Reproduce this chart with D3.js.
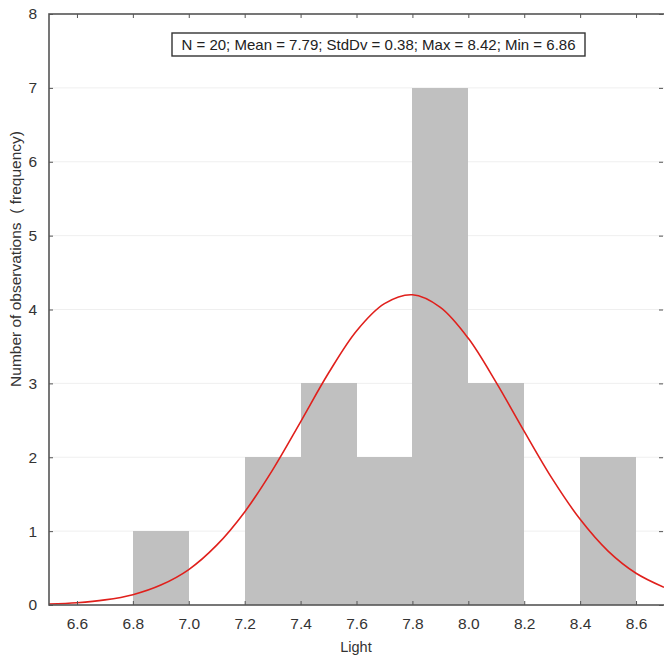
<!DOCTYPE html>
<html>
<head>
<meta charset="utf-8">
<script src="https://cdn.jsdelivr.net/npm/d3@7"></script>
<style>
  body { margin: 0; background: #fff; }
  text { font-family: "Liberation Sans", Arial, sans-serif; }
</style>
</head>
<body>
<div class="graph"></div>
<script>
// histogram bins (lower edge, upper edge, count)
var binStart = [6.6, 6.8, 7.0, 7.2, 7.4, 7.6, 7.8, 8.0, 8.2, 8.4];
var binEnd   = [6.8, 7.0, 7.2, 7.4, 7.6, 7.8, 8.0, 8.2, 8.4, 8.6];
var counts   = [0, 1, 0, 2, 3, 2, 7, 3, 0, 2];

// fitted normal curve, every 0.1
var curveX = [6.5, 6.6, 6.7, 6.8, 6.9, 7.0, 7.1, 7.2, 7.3, 7.4, 7.5, 7.6,
              7.7, 7.8, 7.9, 8.0, 8.1, 8.2, 8.3, 8.4, 8.5, 8.6, 8.7];
var curveY = [0.013, 0.031, 0.069, 0.14, 0.27, 0.48, 0.81, 1.26, 1.83, 2.48, 3.14, 3.71,
              4.08, 4.2, 4.03, 3.61, 3.01, 2.35, 1.71, 1.16, 0.73, 0.43, 0.24];

var xTicks = [6.6, 6.8, 7.0, 7.2, 7.4, 7.6, 7.8, 8.0, 8.2, 8.4, 8.6];
var yTicks = [0, 1, 2, 3, 4, 5, 6, 7, 8];
var statsLabel = "N = 20; Mean = 7.79; StdDv = 0.38; Max = 8.42; Min = 6.86";

var width = 664, height = 659;
// plot area edges (window.top is reserved, so use pl/pr/pt/pb)
var pl = 49, pr = 664, pt = 14, pb = 605;
var fontSize = "15.5px";

var svg = d3.select(".graph").append("svg")
  .attr("width", width)
  .attr("height", height);

var x = d3.scaleLinear().domain([6.5, 8.7]).range([pl, pr]);
var y = d3.scaleLinear().domain([0, 8]).range([pb, pt]);

// faint grid
svg.append("g")
  .selectAll("line")
  .data(yTicks.slice(1, -1))
  .enter().append("line")
  .attr("x1", pl).attr("x2", pr)
  .attr("y1", function (d) { return y(d); })
  .attr("y2", function (d) { return y(d); })
  .attr("stroke", "#efefef")
  .attr("stroke-width", 1);

// bars
var bins = binStart.map(function (s, i) { return { x0: s, x1: binEnd[i], n: counts[i] }; });
svg.append("g")
  .attr("shape-rendering", "crispEdges")
  .selectAll("rect")
  .data(bins.filter(function (d) { return d.n > 0; }))
  .enter().append("rect")
  .attr("x", function (d) { return Math.round(x(d.x0)); })
  .attr("width", function (d) { return Math.round(x(d.x1)) - Math.round(x(d.x0)); })
  .attr("y", function (d) { return Math.round(y(d.n)); })
  .attr("height", function (d) { return Math.round(y(0)) - Math.round(y(d.n)); })
  .attr("fill", "#c0c0c0");

// normal curve
var line = d3.line()
  .x(function (d, i) { return x(curveX[i]); })
  .y(function (d) { return y(d); })
  .curve(d3.curveCatmullRom);

svg.append("path")
  .datum(curveY)
  .attr("d", line)
  .attr("fill", "none")
  .attr("stroke", "#e0201c")
  .attr("stroke-width", 1.6);

// axes, ticks pointing inward
var axisColor = "#555";
function styleAxis(g, showLabels) {
  g.select(".domain").remove();
  g.selectAll(".tick line").attr("stroke", axisColor).attr("stroke-width", 1);
  g.selectAll(".tick text")
    .attr("fill", "#333")
    .style("font-size", fontSize)
    .style("display", showLabels ? null : "none");
}

svg.append("g")
  .attr("transform", "translate(0," + pb + ")")
  .call(d3.axisBottom(x).tickValues(xTicks).tickFormat(d3.format(".1f")).tickSizeInner(-4).tickPadding(13))
  .call(function (g) { styleAxis(g, true); });

svg.append("g")
  .attr("transform", "translate(0," + pt + ")")
  .call(d3.axisTop(x).tickValues(xTicks).tickSizeInner(-4))
  .call(function (g) { styleAxis(g, false); });

svg.append("g")
  .attr("transform", "translate(" + pl + ",0)")
  .call(d3.axisLeft(y).tickValues(yTicks).tickSizeInner(-4).tickPadding(12))
  .call(function (g) { styleAxis(g, true); });

svg.append("g")
  .attr("transform", "translate(" + (pr - 1) + ",0)")
  .call(d3.axisRight(y).tickValues(yTicks).tickSizeInner(-4))
  .call(function (g) { styleAxis(g, false); });

// frame
svg.append("rect")
  .attr("x", pl).attr("y", pt)
  .attr("width", pr - pl + 2).attr("height", pb - pt)
  .attr("fill", "none")
  .attr("stroke", axisColor)
  .attr("stroke-width", 1.6);

// stats box
var box = svg.append("g");
box.append("rect")
  .attr("x", 172).attr("y", 33)
  .attr("width", 413).attr("height", 23)
  .attr("fill", "#fff")
  .attr("stroke", "#333")
  .attr("stroke-width", 1.4);
box.append("text")
  .attr("x", 378.5).attr("y", 50)
  .attr("text-anchor", "middle")
  .style("font-size", "15px")
  .attr("fill", "#222")
  .text(statsLabel);

// titles
svg.append("text")
  .attr("x", 356).attr("y", 652)
  .attr("text-anchor", "middle")
  .style("font-size", "14.5px")
  .attr("fill", "#333")
  .text("Light");

svg.append("text")
  .attr("transform", "translate(21,259) rotate(-90)")
  .attr("text-anchor", "middle")
  .style("font-size", fontSize)
  .style("white-space", "pre")
  .attr("fill", "#333")
  .text("Number of observations  ( frequency)");
</script>
</body>
</html>
